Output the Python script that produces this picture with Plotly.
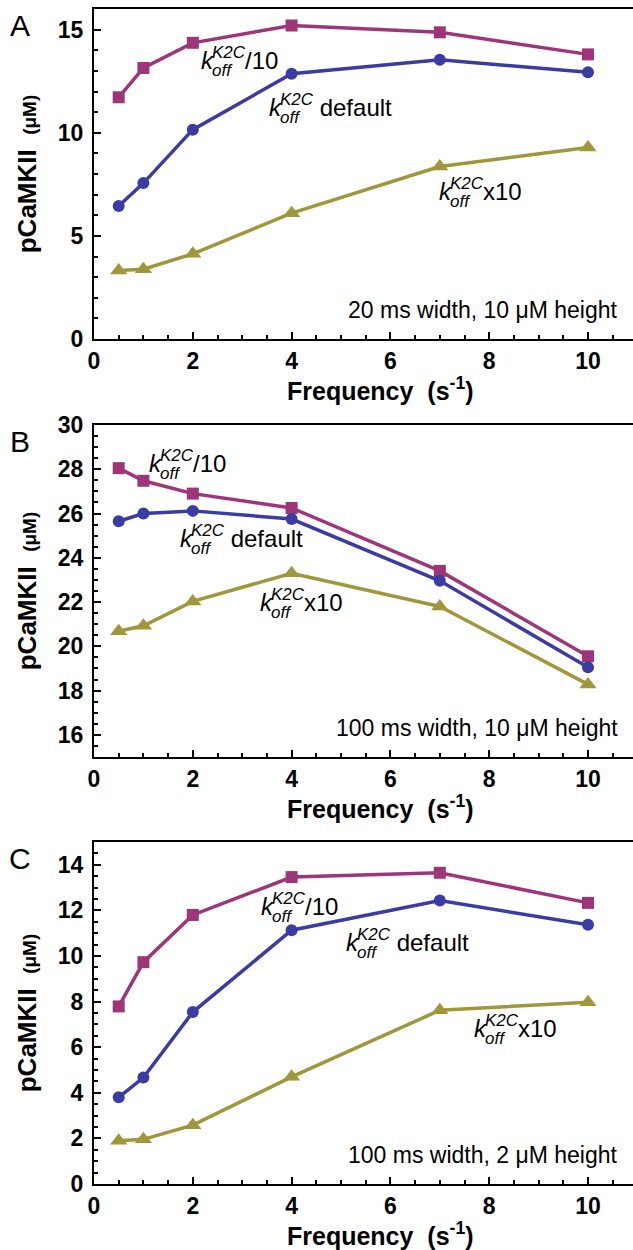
import plotly.graph_objects as go

# Stimulation frequencies (s^-1)
freq = [0.5, 1, 2, 4, 7, 10]

# Panel A: 20 ms width, 10 uM height
a_div10 = [11.72, 13.14, 14.36, 15.20, 14.87, 13.80]
a_default = [6.45, 7.56, 10.15, 12.86, 13.54, 12.93]
a_x10 = [3.32, 3.38, 4.13, 6.10, 8.36, 9.29]

# Panel B: 100 ms width, 10 uM height
b_div10 = [28.05, 27.48, 26.90, 26.25, 23.41, 19.55]
b_default = [25.65, 26.00, 26.12, 25.75, 22.96, 19.05]
b_x10 = [20.68, 20.93, 22.03, 23.30, 21.80, 18.28]

# Panel C: 100 ms width, 2 uM height
c_div10 = [7.79, 9.73, 11.80, 13.46, 13.65, 12.33]
c_default = [3.80, 4.67, 7.54, 11.13, 12.43, 11.37]
c_x10 = [1.90, 1.96, 2.58, 4.70, 7.62, 7.97]

panel_letters = ["A", "B", "C"]
panel_notes = ["20 ms width, 10 μM height",
               "100 ms width, 10 μM height",
               "100 ms width, 2 μM height"]
y_ranges = [[0, 16], [15, 30], [0, 15]]
y_major = [5, 2, 2]
y_minor = [1, 0.5, 0.5]
y_tick0 = [0, 16, 0]

MAGENTA = "#9E3578"
BLUE = "#3B3BA6"
OLIVE = "#A0963A"
FONT = "Liberation Sans"

W, H = 633, 1250
X0_PX = 94          # pixel of x = 0
PX_PER_X = 49.4     # pixels per unit of frequency
x_range = [0, (W - X0_PX) / PX_PER_X]

# plot-area vertical extents in pixels (top, bottom)
panel_px = [(9, 339), (425, 757), (842, 1184)]

fig = go.Figure()

series = [
    (a_div10, a_default, a_x10),
    (b_div10, b_default, b_x10),
    (c_div10, c_default, c_x10),
]

styles = [
    ("k/10", MAGENTA, "square", 12),
    ("default", BLUE, "circle", 12),
    ("x10", OLIVE, "triangle-up", 15),
]

for i, (s_div, s_def, s_x10) in enumerate(series):
    ax = "" if i == 0 else str(i + 1)
    for vals, (name, col, sym, size) in zip((s_div, s_def, s_x10), styles):
        fig.add_trace(go.Scatter(
            x=freq, y=vals, mode="lines+markers",
            line=dict(color=col, width=3.5),
            marker=dict(symbol=sym, size=size, color=col),
            xaxis="x" + ax, yaxis="y" + ax, showlegend=False, name=name,
        ))

layout = dict(
    width=W, height=H,
    margin=dict(l=0, r=0, t=0, b=0, autoexpand=False),
    paper_bgcolor="white", plot_bgcolor="white",
    font=dict(family=FONT, color="black"),
)

tickfont = dict(family=FONT, size=23, color="black", weight="bold")

annotations = []

for i in range(3):
    ax = "" if i == 0 else str(i + 1)
    top, bot = panel_px[i]
    dom_y = [1 - bot / H, 1 - top / H]
    layout["xaxis" + ax] = dict(
        domain=[X0_PX / W, 1], range=x_range, anchor="y" + ax,
        automargin=False,
        showline=True, linecolor="black", linewidth=2, mirror=True,
        ticks="inside", ticklen=7, tickwidth=2, tickcolor="black",
        tick0=0, dtick=2, tickfont=tickfont, ticklabelstandoff=0,
        minor=dict(dtick=0.5, ticks="inside", ticklen=4, tickwidth=1.5,
                   tickcolor="black", showgrid=False),
        showgrid=False, zeroline=False,
    )
    layout["yaxis" + ax] = dict(
        domain=dom_y, range=y_ranges[i], anchor="x" + ax,
        automargin=False,
        showline=True, linecolor="black", linewidth=2, mirror=False,
        ticks="inside", ticklen=7, tickwidth=2, tickcolor="black",
        tick0=y_tick0[i], dtick=y_major[i], tickfont=tickfont,
        ticklabelstandoff=4,
        minor=dict(dtick=y_minor[i], ticks="inside", ticklen=4,
                   tickwidth=1.5, tickcolor="black", showgrid=False),
        showgrid=False, zeroline=False,
        title=dict(
            text="<b>pCaMKII</b>  <b><span style='font-size:19px'>(μM)</span></b>",
            font=dict(family=FONT, size=26, color="black"), standoff=14,
        ),
    )

    # x-axis title
    annotations.append(dict(
        xref="paper", yref="paper", x=380 / W, y=1 - (bot + 50) / H,
        xanchor="center", yanchor="middle", showarrow=False,
        text="<b>Frequency</b>  <b>(s<sup>-1</sup>)</b>",
        font=dict(family=FONT, size=25, color="black"),
    ))
    # panel letter
    annotations.append(dict(
        xref="paper", yref="paper", x=20 / W, y=1 - (top + 16) / H,
        xanchor="center", yanchor="middle", showarrow=False,
        text=panel_letters[i], font=dict(family=FONT, size=30, color="black"),
    ))
    # condition note
    annotations.append(dict(
        xref="paper", yref="paper", x=620 / W, y=1 - (bot - 29) / H,
        xanchor="right", yanchor="middle", showarrow=False,
        text=panel_notes[i], font=dict(family=FONT, size=23, color="black"),
    ))


def k_label(ax, x, y, suffix):
    """k_off^K2C label: italic k with stacked K2C superscript and off subscript."""
    main = dict(family=FONT, size=24, color="black")
    small = dict(family=FONT, size=17, color="black")
    common = dict(xref="x" + ax, yref="y" + ax, x=x, y=y, showarrow=False,
                  xanchor="left", yanchor="middle")
    annotations.append(dict(common, text="<i>k</i>", font=main))
    annotations.append(dict(common, text="<i>K2C</i>", font=small,
                            xshift=11, yshift=8))
    annotations.append(dict(common, text="<i>off</i>", font=small,
                            xshift=11, yshift=-10))
    annotations.append(dict(common, text=suffix, font=main, xshift=44))


# label anchor positions (left of "k", centre of text) per panel
k_label("", 2.13, 13.48, "/10")
k_label("", 3.50, 11.20, " default")
k_label("", 6.94, 7.13, "x10")
k_label("2", 1.07, 28.24, "/10")
k_label("2", 1.70, 24.85, " default")
k_label("2", 3.32, 21.96, "x10")
k_label("3", 3.34, 12.19, "/10")
k_label("3", 5.06, 10.61, " default")
k_label("3", 7.65, 6.84, "x10")

layout["annotations"] = annotations
fig.update_layout(**layout)
fig.write_html("out.html")
